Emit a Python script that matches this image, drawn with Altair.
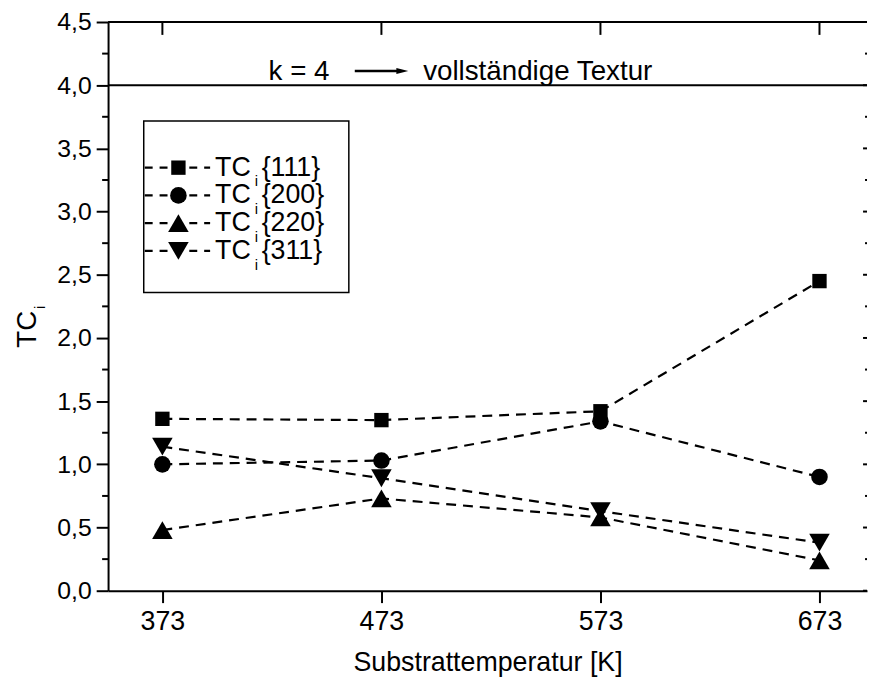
import altair as alt
import pandas as pd

# ---------------- data ----------------
temps = [373, 473, 573, 673]
series = ["{111}", "{200}", "{220}", "{311}"]
tc_111 = [1.36, 1.35, 1.42, 2.45]
tc_200 = [1.00, 1.03, 1.34, 0.90]
tc_220 = [0.48, 0.73, 0.58, 0.24]
tc_311 = [1.14, 0.89, 0.63, 0.38]
shapes = ["square", "circle", "triangle-up", "triangle-down"]
marker_sizes = [210, 280, 430, 430]
y_major = [0.0, 0.5, 1.0, 1.5, 2.0, 2.5, 3.0, 3.5, 4.0, 4.5]
y_minor = [0.25, 0.75, 1.25, 1.75, 2.25, 2.75, 3.25, 3.75, 4.25]
k_value = [4.0]
ann_left = "k = 4"
ann_right = "vollständige Textur"
x_title = "Substrattemperatur [K]"
y_title_main = "TC"
y_title_sub = "i"

W, H = 766, 574
FONT = "Liberation Sans, Arial, Helvetica, sans-serif"

rows = []
for s, vals in zip(series, [tc_111, tc_200, tc_220, tc_311]):
    for t, v in zip(temps, vals):
        rows.append({"T": t, "TC": v, "series": s})
df = pd.DataFrame(rows)
df_top = pd.DataFrame({"T": temps})
df_major = pd.DataFrame({"TC": y_major})
df_minor = pd.DataFrame({"TC": y_minor})
df_k = pd.DataFrame({"k": k_value})
df_leg = pd.DataFrame({"series": series})

xs = alt.Scale(domain=[348.2, 694.7], nice=False, zero=False)
ys = alt.Scale(domain=[0, 4.5], nice=False)

x_enc = alt.X(
    "T:Q", scale=xs,
    axis=alt.Axis(values=temps, title=x_title, labelFontSize=27, titleFontSize=27,
                  labelPadding=6, titlePadding=16, format="d", grid=False,
                  titleFontWeight="normal"),
)
y_enc = alt.Y(
    "TC:Q", scale=ys,
    axis=alt.Axis(values=y_major, title="", labelFontSize=25, labelPadding=5, grid=False,
                  labelExpr="replace(format(datum.value, '.1f'), '.', ',')"),
)

base = alt.Chart(df)
lines = base.mark_line(color="black", strokeWidth=2.2, strokeDash=[10, 7]).encode(
    x=x_enc, y=y_enc, detail="series:N"
)
point_layers = []
for s, shp, sz in zip(series, shapes, marker_sizes):
    point_layers.append(
        base.transform_filter(alt.datum.series == s)
        .mark_point(filled=True, color="black", opacity=1, strokeWidth=0, shape=shp, size=sz)
        .encode(x=alt.X("T:Q", scale=xs), y=alt.Y("TC:Q", scale=ys))
    )

top_ticks = alt.Chart(df_top).mark_rule(color="black", strokeWidth=2).encode(
    x=alt.X("T:Q", scale=xs), y=alt.value(0), y2=alt.value(13)
)
right_major = alt.Chart(df_major).mark_rule(color="black", strokeWidth=2).encode(
    y=alt.Y("TC:Q", scale=ys), x=alt.value(W - 4), x2=alt.value(W)
)
right_minor = alt.Chart(df_minor).mark_rule(color="black", strokeWidth=2).encode(
    y=alt.Y("TC:Q", scale=ys), x=alt.value(W - 2), x2=alt.value(W)
)
left_minor = alt.Chart(df_minor).mark_rule(color="black", strokeWidth=2).encode(
    y=alt.Y("TC:Q", scale=ys), x=alt.value(-6), x2=alt.value(0)
)
top_frame = alt.Chart(df_k).mark_rule(color="black", strokeWidth=2).encode(
    x=alt.value(0), x2=alt.value(W), y=alt.value(0)
)
k_line = alt.Chart(df_k).mark_rule(color="black", strokeWidth=2).encode(
    y=alt.Y("k:Q", scale=ys)
)
k_text_left = alt.Chart(df_k).mark_text(
    align="left", baseline="alphabetic", dy=-5, fontSize=28, font=FONT, color="black"
).encode(x=alt.value(162), y=alt.Y("k:Q", scale=ys), text=alt.value(ann_left))
k_text_right = alt.Chart(df_k).mark_text(
    align="left", baseline="alphabetic", dy=-5, fontSize=28, font=FONT, color="black"
).encode(x=alt.value(318), y=alt.Y("k:Q", scale=ys), text=alt.value(ann_right))
arrow_shaft = alt.Chart(df_k).mark_rule(color="black", strokeWidth=2.5).encode(
    x=alt.value(249), x2=alt.value(293), y=alt.value(49.5)
)
arrow_head = alt.Chart(df_k).mark_point(
    shape="M-1,-0.5L1,0L-1,0.5Z", filled=True, size=144, color="black", opacity=1, strokeWidth=0
).encode(x=alt.value(297), y=alt.value(49.5))

ytitle_main = alt.Chart(df_k).mark_text(
    angle=270, align="center", baseline="alphabetic", fontSize=28, font=FONT, color="black"
).encode(x=alt.value(-73), y=alt.value(310), text=alt.value(y_title_main))
ytitle_sub = alt.Chart(df_k).mark_text(
    angle=270, align="center", baseline="alphabetic", fontSize=15, font=FONT, color="black"
).encode(x=alt.value(-64), y=alt.value(288), text=alt.value(y_title_sub))

main = alt.layer(
    lines, *point_layers, top_ticks, right_major, right_minor, left_minor, top_frame,
    k_line, k_text_left, k_text_right, arrow_shaft, arrow_head, ytitle_main, ytitle_sub,
)

# ---------------- legend ----------------
leg_y = alt.Y("series:N", scale=alt.Scale(domain=series, range=[133, 245], padding=0), axis=None)
leg_base = alt.Chart(df_leg)
leg_box = alt.Chart(df_k).mark_rect(fillOpacity=0, stroke="black", strokeWidth=1.5).encode(
    x=alt.value(36), x2=alt.value(243), y=alt.value(100), y2=alt.value(273)
)
leg_line = leg_base.mark_rule(color="black", strokeWidth=2.2, strokeDash=[8, 7]).encode(
    y=leg_y, x=alt.value(37), x2=alt.value(103)
)
leg_points = []
for s, shp, sz in zip(series, shapes, marker_sizes):
    leg_points.append(
        leg_base.transform_filter(alt.datum.series == s)
        .mark_point(filled=True, color="black", opacity=1, strokeWidth=0, shape=shp, size=sz)
        .encode(y=leg_y, x=alt.value(71))
    )
leg_tc = leg_base.mark_text(
    align="left", baseline="alphabetic", dy=8, fontSize=27, font=FONT, color="black"
).encode(y=leg_y, x=alt.value(108), text=alt.value("TC"))
leg_i = leg_base.mark_text(
    align="left", baseline="alphabetic", dy=19, fontSize=15, font=FONT, color="black"
).encode(y=leg_y, x=alt.value(148), text=alt.value("i"))
leg_lbl = leg_base.mark_text(
    align="left", baseline="alphabetic", dy=8, fontSize=27, font=FONT, color="black"
).encode(y=leg_y, x=alt.value(155), text="series:N")

legend = alt.layer(leg_box, leg_line, *leg_points, leg_tc, leg_i, leg_lbl)

chart = (
    alt.layer(main, legend)
    .resolve_scale(y="independent")
    .properties(
        width=W, height=H,
        autosize=alt.AutoSizeParams(type="none"),
        padding={"left": 101, "top": 11, "right": 1, "bottom": 90},
        background="white",
    )
    .configure_view(strokeOpacity=0)
    .configure_axis(
        domainColor="black", domainWidth=2, tickColor="black", tickWidth=2, tickSize=12,
        labelColor="black", titleColor="black", labelFont=FONT, titleFont=FONT,
        titleFontWeight="normal", grid=False,
    )
)

chart.save("out.html", embed_options={"renderer": "svg", "actions": False})
